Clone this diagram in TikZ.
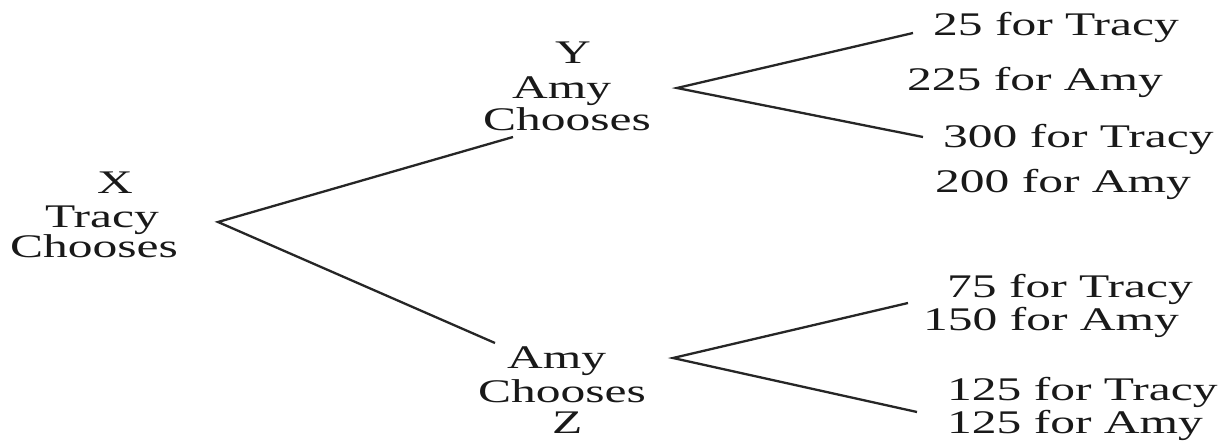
\documentclass[tikz,border=0pt]{standalone}
\usepackage{fontspec}
\setmainfont{Liberation Serif}[FakeStretch=1.5]
\begin{document}
\begin{tikzpicture}[x=1pt,y=-1pt,
  lbl/.style={anchor=base west,inner sep=0pt,text=black!90,
              font=\fontsize{33pt}{30pt}\selectfont},
  branch/.style={line width=2.3pt,draw=black!85}]
\useasboundingbox[fill=white] (0,0) rectangle (1222,442);

% root decision: Tracy
\node[lbl] (x1) at (97,193) {X};
\node[lbl] (x2) at (45,227) {Tracy};
\node[lbl] (x3) at (10,257) {Chooses};

% upper decision: Amy at Y
\node[lbl] (y1) at (555,63) {Y};
\node[lbl] (y2) at (512,98) {Amy};
\node[lbl] (y3) at (483,130) {Chooses};

% lower decision: Amy at Z
\node[lbl] (z1) at (507,368) {Amy};
\node[lbl] (z2) at (478,402) {Chooses};
\node[lbl] (z3) at (552,433) {Z};

% payoffs
\node[lbl] (p1) at (933,35)  {25 for Tracy};
\node[lbl] (p2) at (907,90)  {225 for Amy};
\node[lbl] (p3) at (943,147) {300 for Tracy};
\node[lbl] (p4) at (935,192) {200 for Amy};
\node[lbl] (p5) at (947,297) {75 for Tracy};
\node[lbl] (p6) at (923,330) {150 for Amy};
\node[lbl] (p7) at (947,400) {125 for Tracy};
\node[lbl] (p8) at (947,433) {125 for Amy};

% branch points
\coordinate (xr) at (218,222);
\coordinate (ya) at (513,137);
\coordinate (za) at (495,343);
\coordinate (yr) at (677,88);
\coordinate (yu) at (913,33);
\coordinate (yd) at (923,137);
\coordinate (zr) at (673,358);
\coordinate (zu) at (908,303);
\coordinate (zd) at (917,412);

\draw[branch] (ya) -- (xr) -- (za);
\draw[branch] (yu) -- (yr) -- (yd);
\draw[branch] (zu) -- (zr) -- (zd);
\end{tikzpicture}
\end{document}
